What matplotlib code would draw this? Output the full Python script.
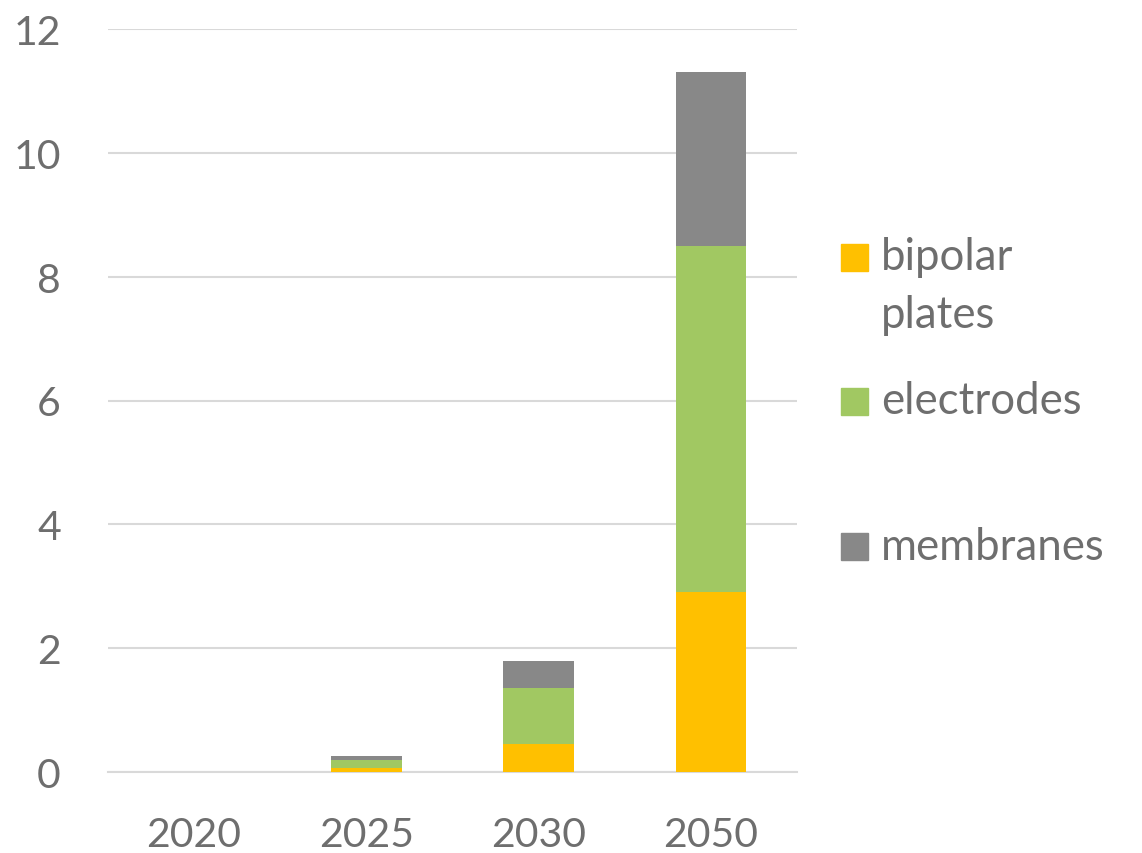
import matplotlib
matplotlib.use("Agg")
import matplotlib.pyplot as plt
from matplotlib.patches import Rectangle
import numpy as np

years = ["2020", "2025", "2030", "2050"]
series_names = ["bipolar\nplates", "electrodes", "membranes"]
bipolar_plates = [0.0, 0.065, 0.45, 2.91]
electrodes = [0.0, 0.125, 0.90, 5.59]
membranes = [0.0, 0.07, 0.45, 2.81]
colors = ["#FFC000", "#A1C862", "#888888"]
y_ticks = [0, 2, 4, 6, 8, 10, 12]

text_color = "#6E6E6E"
grid_color = "#D9D9D9"
plt.rcParams["font.family"] = ["Lato", "DejaVu Sans"]

W, H = 1142, 854
fig = plt.figure(figsize=(W / 100, H / 100), dpi=100)
ax = fig.add_axes([108 / W, 1 - 773 / H, (797 - 108) / W, (773 - 30) / H])

x = np.arange(len(years))
bottom = np.zeros(len(years))
for vals, col in zip([bipolar_plates, electrodes, membranes], colors):
    ax.bar(x, vals, width=0.41, bottom=bottom, color=col, zorder=3)
    bottom += np.array(vals)

ax.set_xlim(-0.5, len(years) - 0.5)
ax.set_ylim(0, 12)
ax.set_yticks(y_ticks)
ax.set_yticklabels([str(t) for t in y_ticks])
ax.set_xticks(x)
ax.set_xticklabels(years)
ax.yaxis.grid(True, color=grid_color, linewidth=1.5, zorder=0)
ax.set_axisbelow(True)
for side in ["left", "right", "top"]:
    ax.spines[side].set_visible(False)
ax.spines["bottom"].set_color(grid_color)
ax.spines["bottom"].set_linewidth(1.5)
ax.tick_params(axis="both", length=0, labelsize=29.5, colors=text_color)
ax.tick_params(axis="y", pad=34)
ax.tick_params(axis="x", pad=32)

# legend on the right of the plot, one row per series
legend_rows = [258, 402, 547]
line_step = 57
for name, col, yc in zip(series_names, colors, legend_rows):
    fig.add_artist(Rectangle((841 / W, 1 - (yc + 13.5) / H), 27 / W, 27 / H,
                             transform=fig.transFigure, color=col))
    for i, line in enumerate(name.split("\n")):
        fig.text(881 / W, 1 - (yc + i * line_step) / H, line, ha="left",
                 va="center", fontsize=31.5, color=text_color)

fig.savefig("out.png", dpi=100)
